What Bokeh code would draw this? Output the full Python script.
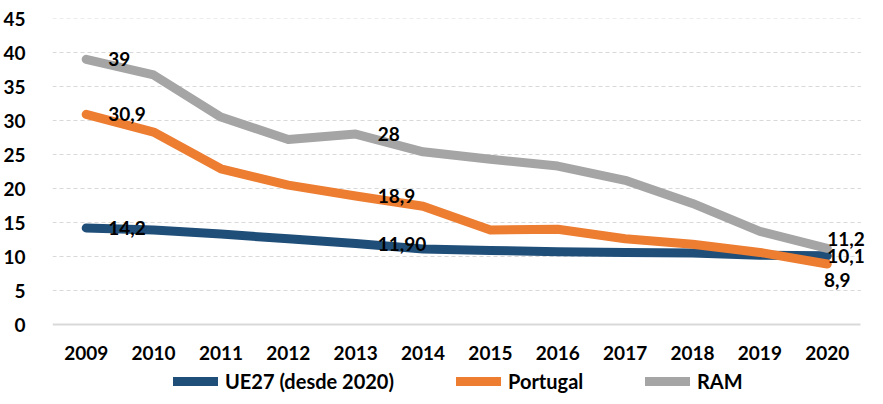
from bokeh.plotting import figure
from bokeh.models import (ColumnDataSource, LabelSet, Legend, LegendItem,
                          FixedTicker, Range1d)
from bokeh.embed import file_html
from bokeh.resources import INLINE
from bokeh.core.properties import value

years = ["2009", "2010", "2011", "2012", "2013", "2014", "2015", "2016",
         "2017", "2018", "2019", "2020"]
ue27 = [14.2, 13.9, 13.3, 12.6, 11.9, 11.1, 10.9, 10.7, 10.6, 10.5, 10.2, 10.1]
portugal = [30.9, 28.3, 22.9, 20.5, 18.9, 17.4, 13.9, 14.0, 12.6, 11.8, 10.6, 8.9]
ram = [39.0, 36.7, 30.5, 27.2, 28.0, 25.4, 24.3, 23.3, 21.2, 17.8, 13.7, 11.2]

series_names = ["UE27 (desde 2020)", "Portugal", "RAM"]
colors = ["#1F4E79", "#ED7D31", "#A5A5A5"]

# data labels: (series index, year index, text)
label_series = [2, 2, 2, 1, 1, 1, 0, 0, 0]
label_year = [0, 4, 11, 0, 4, 11, 0, 4, 11]
label_text = ["39", "28", "11,2", "30,9", "18,9", "8,9", "14,2", "11,90", "10,1"]

yticks = [0, 5, 10, 15, 20, 25, 30, 35, 40, 45]

FONT = "Lato"
FS = "19px"
LEG_FS = "20px"

W, H = 867, 396
LEFT, TOP = 48, 18
ZERO_PX = 324                      # pixel row (in figure) of the value 0
n = len(years)
cat_px = 67.7                      # pixel width of one year slot
x_end = -0.5 + (W - LEFT) / cat_px
px_per_unit = (ZERO_PX - TOP) / 45.0
y_start = -(H - ZERO_PX) / px_per_unit   # frame extends down to hold axis labels + legend

xs = list(range(n))

p = figure(width=W, height=H, output_backend="svg", toolbar_location=None,
           x_range=Range1d(-0.5, x_end), y_range=Range1d(y_start, 45),
           min_border_left=LEFT, min_border_right=0, min_border_top=TOP,
           min_border_bottom=0)
p.outline_line_color = None
p.background_fill_color = "white"
p.border_fill_color = "white"

# dashed horizontal gridlines limited to the year slots
p.xgrid.grid_line_color = None
p.ygrid.grid_line_color = None
gx0 = [-0.5] * (len(yticks) - 1)
gx1 = [n - 0.5] * (len(yticks) - 1)
p.segment(x0=gx0, y0=yticks[1:], x1=gx1, y1=yticks[1:],
          line_color="#D9D9D9", line_width=1, line_dash="4 3")

all_series = [ue27, portugal, ram]
renderers = []
for vals, c in zip(all_series, colors):
    r = p.line(xs, vals, line_color=c, line_width=9, line_cap="round",
               line_join="round")
    renderers.append(r)

# axes
p.xaxis.ticker = FixedTicker(ticks=xs)
p.xaxis.major_label_overrides = {i: y for i, y in enumerate(years)}
p.xaxis.bounds = (-0.5, n - 0.5)
p.xaxis.fixed_location = 0
p.yaxis.ticker = FixedTicker(ticks=yticks)
p.yaxis.bounds = (0, 45)
for ax in (p.xaxis, p.yaxis):
    ax.major_tick_line_color = None
    ax.minor_tick_line_color = None
    ax.major_label_text_font = FONT
    ax.major_label_text_font_size = FS
    ax.major_label_text_font_style = "bold"
    ax.major_label_text_color = "#000000"
p.yaxis.axis_line_color = None
p.yaxis.major_label_standoff = 21
p.xaxis.axis_line_color = "#D9D9D9"
p.xaxis.axis_line_width = 2
p.xaxis.major_label_standoff = 15

# data labels
lx, ly, lxo, lyo, align = [], [], [], [], []
for s, yi, t in zip(label_series, label_year, label_text):
    lx.append(xs[yi])
    ly.append(all_series[s][yi])
    if yi == n - 1:
        if s == 2:
            lxo.append(0); lyo.append(9); align.append("left")
        elif s == 0:
            lxo.append(0); lyo.append(0); align.append("left")
        else:
            lxo.append(10); lyo.append(-16); align.append("center")
    else:
        lxo.append(22); lyo.append(0); align.append("left")

lsrc = ColumnDataSource(dict(x=lx, y=ly, text=label_text, xo=lxo, yo=lyo, align=align))
labels = LabelSet(x="x", y="y", text="text", source=lsrc, x_offset="xo", y_offset="yo",
                  text_align="align", text_baseline="middle",
                  text_font=value(FONT), text_font_size=FS, text_font_style="bold",
                  text_color="#000000")
p.add_layout(labels)

# one legend per series so each entry sits where the reference has it
legend_x = [121, 404, 593]
for nm, r, lxp in zip(series_names, renderers, legend_x):
    leg = Legend(items=[LegendItem(label=nm, renderers=[r])],
                 orientation="horizontal", location=(lxp, 3),
                 glyph_width=45, glyph_height=20, label_height=20, label_standoff=7,
                 padding=0, margin=0,
                 label_text_font=FONT, label_text_font_size=LEG_FS,
                 label_text_font_style="bold", label_text_color="#000000",
                 border_line_color=None, background_fill_alpha=0)
    p.add_layout(leg, "center")

open("out.html", "w").write(file_html(p, INLINE))
